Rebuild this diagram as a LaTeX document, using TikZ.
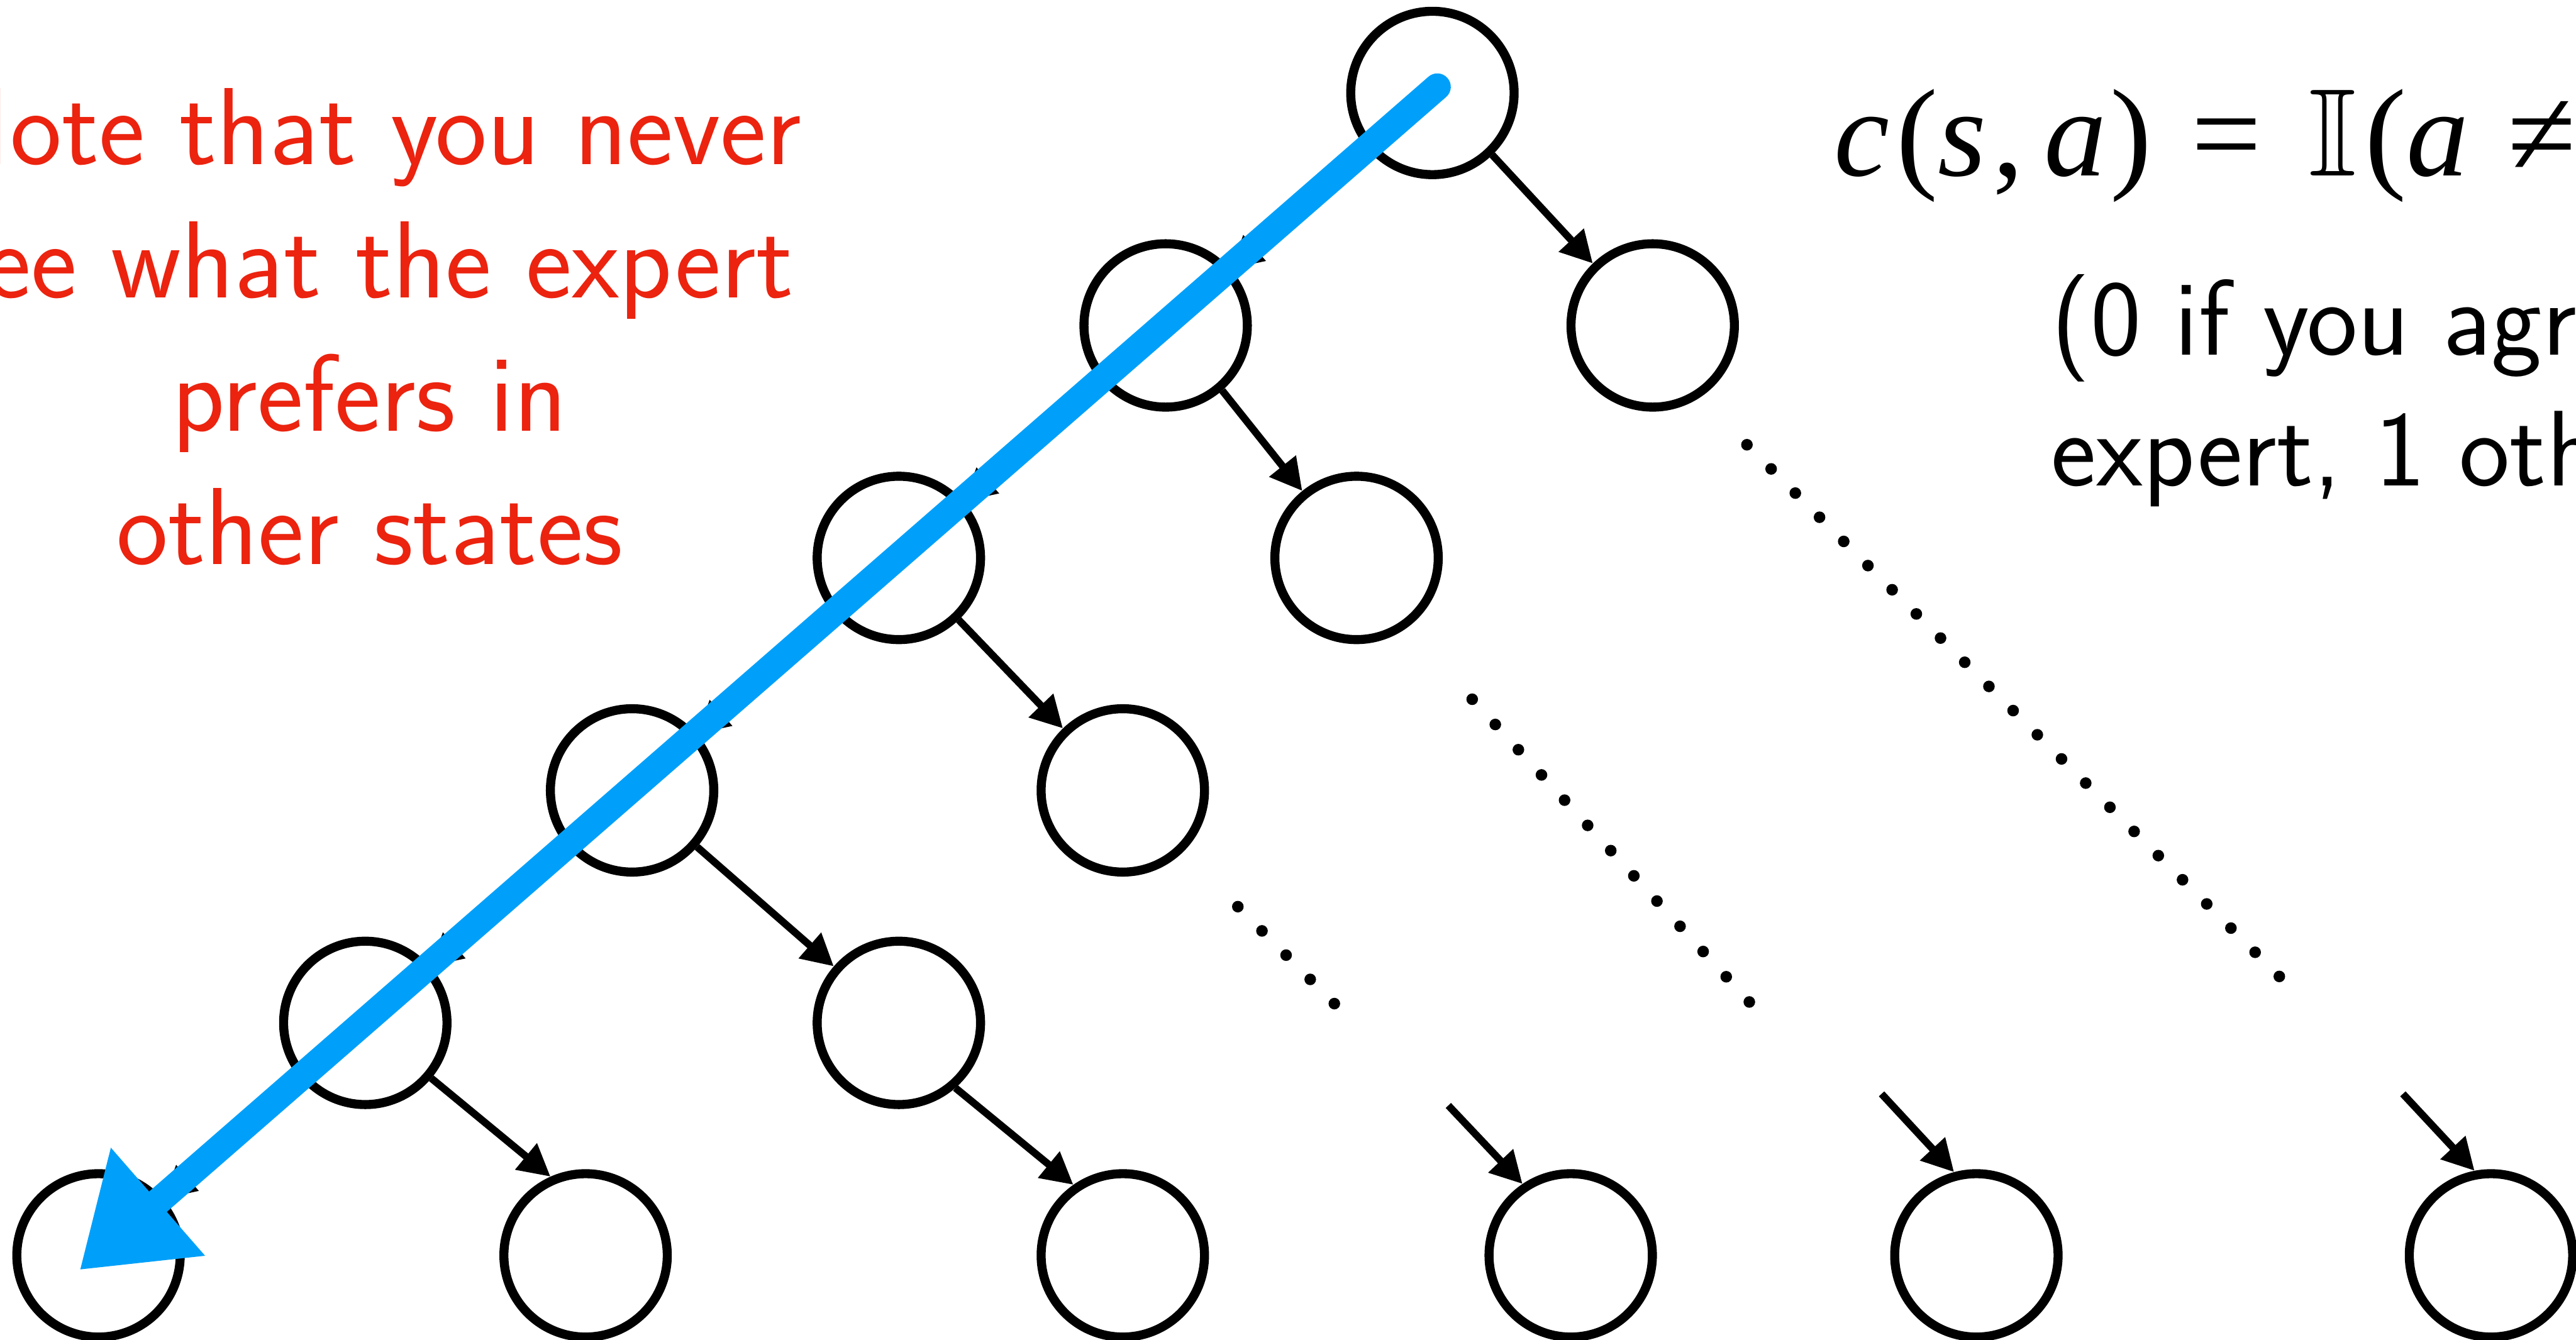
\documentclass[tikz,border=0pt]{standalone}
\usepackage{amssymb}
\usepackage{fontspec}
\newfontfamily\costfont{Liberation Serif}
\newcommand{\vi}[1]{\textit{#1}}
\usetikzlibrary{positioning, arrows.meta}
\definecolor{NoteRed}{RGB}{235, 35, 15}
\definecolor{PathBlue}{RGB}{0, 160, 250}

\begin{document}
\begin{tikzpicture}[on grid,
  statenode/.style={circle, draw, line width=2.1pt, minimum size=1.335cm, inner sep=0pt},
  move/.style={-{Triangle[length=0.26cm, width=0.265cm]}, line width=1.7pt},
  dotrow/.style={line width=2.7pt, line cap=round, dash pattern=on 0pt off 0.2795cm}]
\useasboundingbox (0,0) rectangle (21.05,10.95);
% tree of states
\node[statenode] (root) at (11.705,10.19) {};
\node[statenode, below left=1.9cm and 2.18cm of root] (l1) {};
\node[statenode, below right=1.9cm and 1.8cm of root] (r1) {};
\node[statenode, below left=1.9cm and 2.18cm of l1] (l2) {};
\node[statenode, below right=1.9cm and 1.56cm of l1] (r2) {};
\node[statenode, below left=1.9cm and 2.18cm of l2] (l3) {};
\node[statenode, below right=1.9cm and 1.83cm of l2] (r3) {};
\node[statenode, below left=1.9cm and 2.18cm of l3] (l4) {};
\node[statenode, below right=1.9cm and 2.18cm of l3] (r4) {};
\node[statenode, below left=1.9cm and 2.18cm of l4] (l5) {};
\node[statenode, below right=1.9cm and 1.8cm of l4] (b1) {};
\node[statenode, below right=1.9cm and 1.83cm of r4] (b2) {};
\node[statenode, right=3.66cm of b2] (b3) {};
\node[statenode, right=3.315cm of b3] (b4) {};
\node[statenode, right=4.205cm of b4] (b5) {};
\coordinate[above left=1.225cm and 1.0cm of b3] (t3);
\coordinate[above left=1.32cm and 0.775cm of b4] (t4);
\coordinate[above left=1.32cm and 0.72cm of b5] (t5);
% actions
\draw[move] (root) -- (l1);
\draw[move] (l1) -- (l2);
\draw[move] (l2) -- (l3);
\draw[move] (l3) -- (l4);
\draw[move] (l4) -- (l5);
\draw[move] (root.-46) -- (r1.134);
\draw[move] (l1.-49) -- (r2.129);
\draw[move] (l2.-46) -- (r3.134);
\draw[move] (l3.-41) -- (r4.139);
\draw[move] (l4.-40) -- (b1.114);
\draw[move] (r4.-49) -- (b2.125);
\draw[move] (t3) -- (b3.124);
\draw[move] (t4) -- (b4.105);
\draw[move] (t5) -- (b5.101);
% dotted continuations
\coordinate (d1a) at (10.115,3.54);
\coordinate (d1b) at (11.10,2.55);
\coordinate (d2a) at (12.03,5.235);
\coordinate (d2b) at (14.30,2.755);
\coordinate (d3a) at (14.275,7.315);
\coordinate (d3b) at (18.635,2.96);
\draw[dotrow] (d1a) -- (d1b);
\draw[dotrow] (d2a) -- (d2b);
\draw[dotrow] (d3a) -- (d3b);
% text
\node[anchor=north, inner sep=0pt, align=center, text=NoteRed, font=\sffamily\fontsize{25.5}{31}\selectfont] (note) at (3.02,10.235) {Note that you never\\see what the expert\\prefers in\\other states};
\node[anchor=base west, inner sep=0pt, font=\costfont\fontsize{29}{34}\selectfont] (cost) at (14.98,9.515) {\vi{c}\kern1.6pt(\vi{s}\kern1.5pt,\hspace{0.16em}\vi{a}\kern0.9pt)\hspace{0.32em}=\hspace{0.37em}$\mathbb{I}$\kern2pt(\vi{a}\hspace{0.31em}≠\hspace{0.31em}\vi{π}*(\vi{s}))};
\node[anchor=north west, inner sep=0pt, align=left, font=\sffamily\fontsize{25}{30.5}\selectfont] (agree) at (16.755,8.715) {(0 if you agree with the\\expert, 1 otherwise)};
% expert path
\draw[PathBlue, line width=0.22cm, line cap=round, -{Triangle[length=0.85cm, width=1.11cm]}] ([shift={(0.04,0.05)}]root.center) -- ([shift={(-0.155,-0.12)}]l5.center);
\end{tikzpicture}
\end{document}
